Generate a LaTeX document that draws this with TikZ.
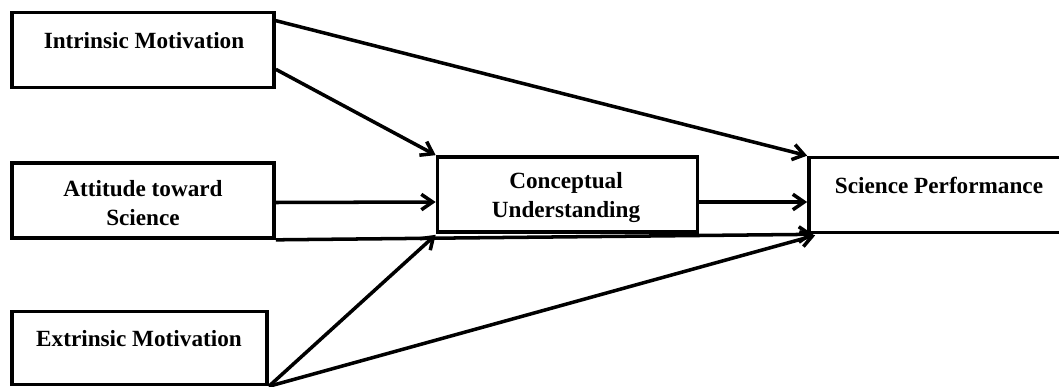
\documentclass[tikz,border=0pt]{standalone}
\usepackage{fontspec}
\setmainfont{Liberation Serif}
\usetikzlibrary{arrows.meta}

\begin{document}
\begin{tikzpicture}[x=0.025cm,y=-0.025cm,
  box/.style={draw,line width=2.6pt,minimum width=262*0.025cm,minimum height=75*0.025cm,inner sep=0pt},
  lbl/.style={font=\fontsize{16.5}{20}\selectfont\bfseries,align=center,inner sep=0pt},
  path/.style={line width=2.5pt,-{Straight Barb[length=8pt,width=11pt,line width=2.5pt]}}]
\useasboundingbox (0,0) rectangle (1059,387);
% boxes
\node[box] (im) at (143,50) {};
\node[box] (at) at (143,200.5) {};
\node[box,minimum width=255*0.025cm,minimum height=73*0.025cm] (em) at (139.5,348) {};
\node[box,minimum width=260*0.025cm] (cu) at (567.5,194.5) {};
\node[box] (sp) at (940,195) {};
% texts
\node[lbl] (im-txt) at (144,41) {Intrinsic Motivation};
\node[lbl] (at-txt) at (143,203) {Attitude toward\\Science};
\node[lbl] (em-txt) at (139,338.5) {Extrinsic Motivation};
\node[lbl] (cu-txt) at (566,197.5) {Conceptual\\Understanding};
\node[lbl] (sp-txt) at (939,185) {Science Performance};
% paths
\draw[path] ([yshift=-10*0.025cm]im.north east) -- (sp.north west);
\draw[path] ([yshift=20*0.025cm]im.south east) -- (cu.north west);
\draw[path] ([yshift=-2*0.025cm]at.east) -- ([yshift=-7.5*0.025cm]cu.east -| cu.west);
\draw[path] ([yshift=-7.5*0.025cm]cu.east) -- ([yshift=-7.5*0.025cm]cu.east -| sp.west);
\draw[path] (at.south east) -- ([xshift=6*0.025cm]sp.south west);
\draw[path] (em.south east) -- ([yshift=-1*0.025cm]cu.south west);
\draw[path] (em.south east) -- ([xshift=8*0.025cm,yshift=-1*0.025cm]sp.south west);
\end{tikzpicture}
\end{document}
